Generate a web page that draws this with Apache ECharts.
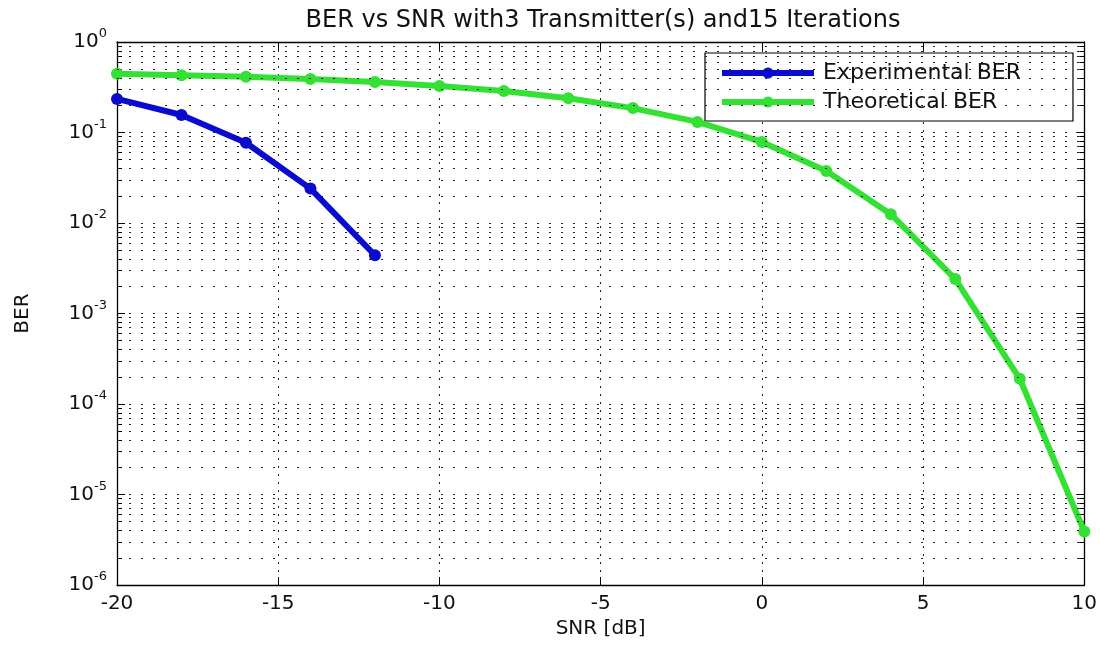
<!DOCTYPE html>
<html>
<head>
<meta charset="utf-8">
<script src="https://cdn.jsdelivr.net/npm/echarts@6/dist/echarts.min.js"></script>
<style>
  html, body { margin: 0; padding: 0; background: #fff; }
  #main { width: 1100px; height: 645px; }
</style>
</head>
<body>
<div id="main"></div>
<script>
// SNR points (dB)
var snrExp = [-20, -18, -16, -14, -12];
var snrTheo = [-20, -18, -16, -14, -12, -10, -8, -6, -4, -2, 0, 2, 4, 6, 8, 10];
// BER values
var berExp = [0.235, 0.156, 0.077, 0.024, 0.0044];
var berTheo = [0.446, 0.43, 0.412, 0.39, 0.361, 0.327, 0.288, 0.239, 0.186, 0.131,
               0.0787, 0.0375, 0.0125, 0.0024, 0.00019, 0.0000039];
var seriesNames = ['Experimental BER', 'Theoretical BER'];

var font = 'DejaVu Sans';
var gridDots = '#222';

// minor grid lines of the log axis: 2..9 x 10^k
var minorLines = [];
for (var k = -6; k < 0; k++) {
    for (var m = 2; m <= 9; m++) {
        minorLines.push({ yAxis: m * Math.pow(10, k) });
    }
}

function pairs(xs, ys) {
    return xs.map(function (x, i) { return [x, ys[i]]; });
}

var myChart = echarts.init(document.getElementById('main'));
var option = {
    backgroundColor: '#fff',
    animation: false,
    title: {
        text: 'BER vs SNR with3 Transmitter(s) and15 Iterations',
        left: 598,
        textAlign: 'center',
        top: 4,
        textStyle: { color: '#111', fontWeight: 'normal', fontSize: 24, fontFamily: font }
    },
    legend: {
        data: seriesNames,
        orient: 'vertical',
        left: 705,
        top: 53,
        padding: [9, 52, 8, 14],
        itemGap: 7,
        itemWidth: 92,
        itemHeight: 14,
        backgroundColor: '#fff',
        borderColor: '#000',
        borderWidth: 1.2,
        borderRadius: 0,
        lineStyle: { width: 6 },
        textStyle: { color: '#111', fontSize: 22, fontFamily: font, padding: [0, 0, 0, 4] }
    },
    grid: { left: 117, right: 13, top: 42, bottom: 60, containLabel: false },
    xAxis: [{
        type: 'value',
        min: -20, max: 10, interval: 5,
        name: 'SNR [dB]',
        nameLocation: 'middle',
        nameGap: 30,
        nameTextStyle: { color: '#111', fontSize: 20, fontFamily: font },
        axisLine: { onZero: false, lineStyle: { color: '#000', width: 1.3 } },
        axisTick: { inside: true, length: 8, lineStyle: { color: '#000' } },
        axisLabel: { color: '#111', fontSize: 20, fontFamily: font, margin: 9 },
        splitLine: { show: true, lineStyle: { color: gridDots, type: [2, 6], width: 1 } }
    }, {
        type: 'value',
        position: 'top',
        min: -20, max: 10, interval: 5,
        axisLine: { onZero: false, lineStyle: { color: '#000', width: 1.3 } },
        axisTick: { inside: true, length: 8, lineStyle: { color: '#000' } },
        axisLabel: { show: false },
        splitLine: { show: false }
    }],
    yAxis: [{
        type: 'log',
        logBase: 10,
        min: 1e-6, max: 1,
        name: 'BER',
        nameLocation: 'middle',
        nameGap: 84,
        nameTextStyle: { color: '#111', fontSize: 20, fontFamily: font },
        axisLine: { show: true, onZero: false, lineStyle: { color: '#000', width: 1.3 } },
        axisTick: { inside: true, length: 8, lineStyle: { color: '#000' } },
        minorTick: { show: true, splitNumber: 9, length: 5, lineStyle: { color: '#000' } },
        axisLabel: {
            margin: 10,
            formatter: function (v) {
                var e = Math.round(Math.log10(v));
                return '{b|10}{s|' + e + '}';
            },
            rich: {
                b: { fontSize: 20, fontFamily: font, color: '#111' },
                s: { fontSize: 13, fontFamily: font, color: '#111', padding: [0, 0, 16, 0] }
            }
        },
        splitLine: { show: true, lineStyle: { color: gridDots, type: [2, 10], width: 1 } }
    }, {
        type: 'log',
        logBase: 10,
        min: 1e-6, max: 1,
        position: 'right',
        axisLine: { show: true, onZero: false, lineStyle: { color: '#000', width: 1.3 } },
        axisTick: { inside: true, length: 8, lineStyle: { color: '#000' } },
        minorTick: { show: true, splitNumber: 9, length: 5, lineStyle: { color: '#000' } },
        axisLabel: { show: false },
        splitLine: { show: false }
    }],
    series: [{
        name: seriesNames[0],
        type: 'line',
        data: pairs(snrExp, berExp),
        color: '#0b0bd0',
        lineStyle: { width: 6 },
        symbol: 'circle',
        symbolSize: 12,
        z: 5
    }, {
        name: seriesNames[1],
        type: 'line',
        data: pairs(snrTheo, berTheo),
        color: '#33e033',
        lineStyle: { width: 6 },
        symbol: 'circle',
        symbolSize: 12,
        z: 4
    }, {
        name: 'minor grid',
        type: 'line',
        data: [],
        silent: true,
        markLine: {
            silent: true,
            symbol: 'none',
            precision: 12,
            label: { show: false },
            lineStyle: { color: gridDots, type: [2, 10], width: 1 },
            data: minorLines
        }
    }]
};

myChart.setOption(option);
</script>
</body>
</html>
